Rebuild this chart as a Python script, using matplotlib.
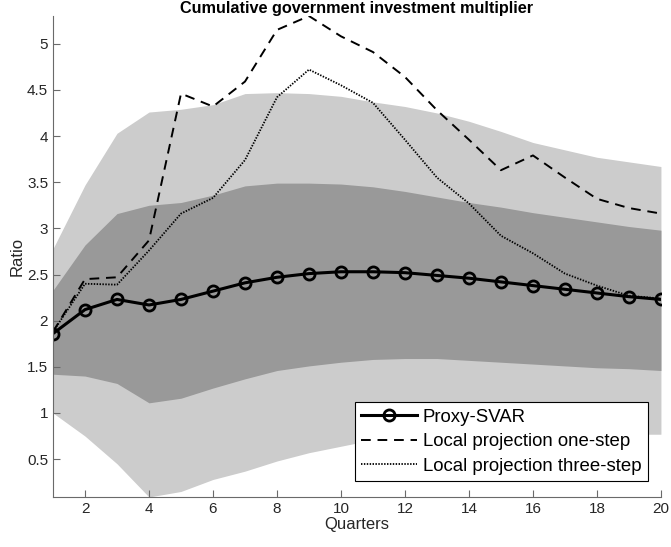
import numpy as np
import matplotlib
matplotlib.use("Agg")
import matplotlib.pyplot as plt

plt.rcParams['font.family'] = ['Liberation Sans', 'DejaVu Sans']

# horizon (quarters)
quarters = np.arange(1, 21)

# confidence bands
outer_hi = [2.78, 3.47, 4.03, 4.26, 4.29, 4.34, 4.46, 4.47, 4.46, 4.43,
            4.37, 4.32, 4.25, 4.16, 4.05, 3.93, 3.85, 3.77, 3.72, 3.67]
outer_lo = [1.00, 0.75, 0.45, 0.09, 0.15, 0.28, 0.37, 0.48, 0.57, 0.64,
            0.71, 0.74, 0.76, 0.77, 0.77, 0.77, 0.77, 0.77, 0.77, 0.77]
inner_hi = [2.33, 2.82, 3.16, 3.25, 3.28, 3.36, 3.46, 3.49, 3.49, 3.48,
            3.45, 3.40, 3.34, 3.28, 3.23, 3.17, 3.12, 3.07, 3.02, 2.98]
inner_lo = [1.42, 1.40, 1.32, 1.11, 1.16, 1.27, 1.37, 1.46, 1.51, 1.55,
            1.58, 1.59, 1.59, 1.57, 1.55, 1.53, 1.51, 1.49, 1.48, 1.46]

# point estimates
proxy_svar = [1.86, 2.12, 2.23, 2.17, 2.23, 2.32, 2.41, 2.47, 2.51, 2.53,
              2.53, 2.52, 2.49, 2.46, 2.42, 2.38, 2.34, 2.30, 2.26, 2.23]
lp_one = [1.88, 2.45, 2.47, 2.87, 4.46, 4.32, 4.59, 5.15, 5.30, 5.08,
          4.91, 4.64, 4.28, 3.96, 3.63, 3.79, 3.55, 3.32, 3.22, 3.16]
lp_three = [1.88, 2.40, 2.39, 2.76, 3.16, 3.33, 3.74, 4.42, 4.72, 4.55,
            4.36, 3.96, 3.55, 3.27, 2.92, 2.73, 2.51, 2.38, 2.27, 2.24]

txtcol = '#262626'
axcol = '#6a6a6a'

fig = plt.figure(figsize=(6.71, 5.47), dpi=100)
ax = fig.add_axes([0.079, 0.0914, 0.906, 0.8793])

ax.fill_between(quarters, outer_lo, outer_hi, color='#cccccc', lw=0)
ax.fill_between(quarters, inner_lo, inner_hi, color='#999999', lw=0)

ax.plot(quarters, proxy_svar, color='k', lw=2.2, marker='o', ms=8,
        mfc='none', mew=2, label='Proxy-SVAR')
ax.plot(quarters, lp_one, color='k', lw=1.4, ls=(0, (5, 3.5)),
        label='Local projection one-step')
ax.plot(quarters, lp_three, color='k', lw=1.3, ls=(0, (0.8, 0.8)),
        label='Local projection three-step')

ax.set_xlim(1, 20)
ax.set_ylim(0.09, 5.30)
ax.set_xticks(np.arange(2, 21, 2))
ax.set_yticks([0.5, 1, 1.5, 2, 2.5, 3, 3.5, 4, 4.5, 5])
ax.set_yticklabels(['0.5', '1', '1.5', '2', '2.5', '3', '3.5', '4', '4.5', '5'])

for s in ['top', 'right']:
    ax.spines[s].set_visible(False)
for s in ['left', 'bottom']:
    ax.spines[s].set_color(axcol)
    ax.spines[s].set_linewidth(0.8)
ax.tick_params(direction='in', length=5, width=0.8, color=axcol,
               labelcolor=txtcol, labelsize=11)

ax.set_xlabel('Quarters', fontsize=12, color=txtcol, labelpad=1)
ax.set_ylabel('Ratio', fontsize=12, color=txtcol, labelpad=2)
ax.set_title('Cumulative government investment multiplier',
             fontsize=11.7, fontweight='bold', pad=1)

leg = ax.legend(loc='lower right', fontsize=13.4, frameon=True, fancybox=False,
                framealpha=1, edgecolor='k', borderpad=0.35, labelspacing=0.4,
                handlelength=3.0, handletextpad=0.3, borderaxespad=0,
                bbox_to_anchor=(0.9786, 0.033))
leg.get_frame().set_linewidth(0.8)

fig.savefig('out.png', dpi=100)
